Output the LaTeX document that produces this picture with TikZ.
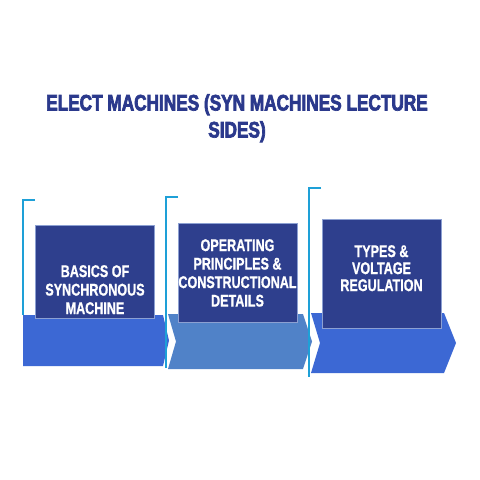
\documentclass[tikz,border=0pt]{standalone}
\usepackage{fontspec}
\setmainfont{Liberation Sans}
\newfontfamily\titlefont[FakeStretch=0.765,FakeBold=3]{Liberation Sans Bold}
\newfontfamily\panelfont[FakeStretch=0.74,FakeBold=0.8]{Liberation Sans Bold}

\definecolor{titleblue}{RGB}{43,57,140}
\definecolor{panelblue}{RGB}{46,63,141}
\definecolor{paneledge}{RGB}{140,160,210}
\definecolor{barblue}{RGB}{60,104,212}
\definecolor{barsteel}{RGB}{80,130,200}
\definecolor{tickcyan}{RGB}{30,160,215}

\begin{document}
\begin{tikzpicture}[x=1pt, y=-1pt,
    panel/.style={fill=panelblue, draw=paneledge, line width=0.8pt, minimum width=119pt, inner sep=0pt},
    paneltext/.style={text=white, align=center, inner sep=0pt, anchor=north, font=\panelfont\fontsize{17}{18.5}\selectfont},
    bracket/.style={draw=tickcyan, line width=1.6pt}]

    \useasboundingbox[fill=white] (0,0) rectangle (480,480);

    % title
    \node[anchor=north, inner sep=0pt, align=center, text=titleblue,
          font=\titlefont\fontsize{22.5}{27}\selectfont] (title) at (237,94)
          {ELECT MACHINES (SYN MACHINES LECTURE\\SIDES)};

    % chevron bars
    \fill[barblue] (23,315) -- (163,315) -- (169,340.5) -- (163,366) -- (23,366) -- cycle;
    \fill[barsteel] (168,314) -- (303,314) -- (312,341.5) -- (303,369) -- (168,369) -- (176,341.5) -- cycle;
    \fill[barblue] (311,313) -- (444,313) -- (456,343) -- (444,373) -- (311,373) -- (320,343) -- cycle;

    % brackets
    \draw[bracket] (35,200) -- (23,200) -- (23,315);
    \draw[bracket] (178,197) -- (166,197) -- (166,368);
    \draw[bracket] (321,188) -- (309,188) -- (309,377);

    % panels
    \node[panel, minimum height=93pt] (box1) at (94.5,271.5) {};
    \node[panel, minimum height=99pt] (box2) at (237.5,272.5) {};
    \node[panel, minimum height=109pt] (box3) at (381.5,273.5) {};

    \node[paneltext] (txt1) at (95,265) {BASICS OF\\SYNCHRONOUS\\MACHINE};
    \node[paneltext] (txt2) at (237.5,239) {OPERATING\\PRINCIPLES \&\\CONSTRUCTIONAL\\DETAILS};
    \node[paneltext, font=\panelfont\fontsize{17}{17}\selectfont] (txt3) at (381.5,245) {TYPES \&\\VOLTAGE\\REGULATION};

\end{tikzpicture}
\end{document}
